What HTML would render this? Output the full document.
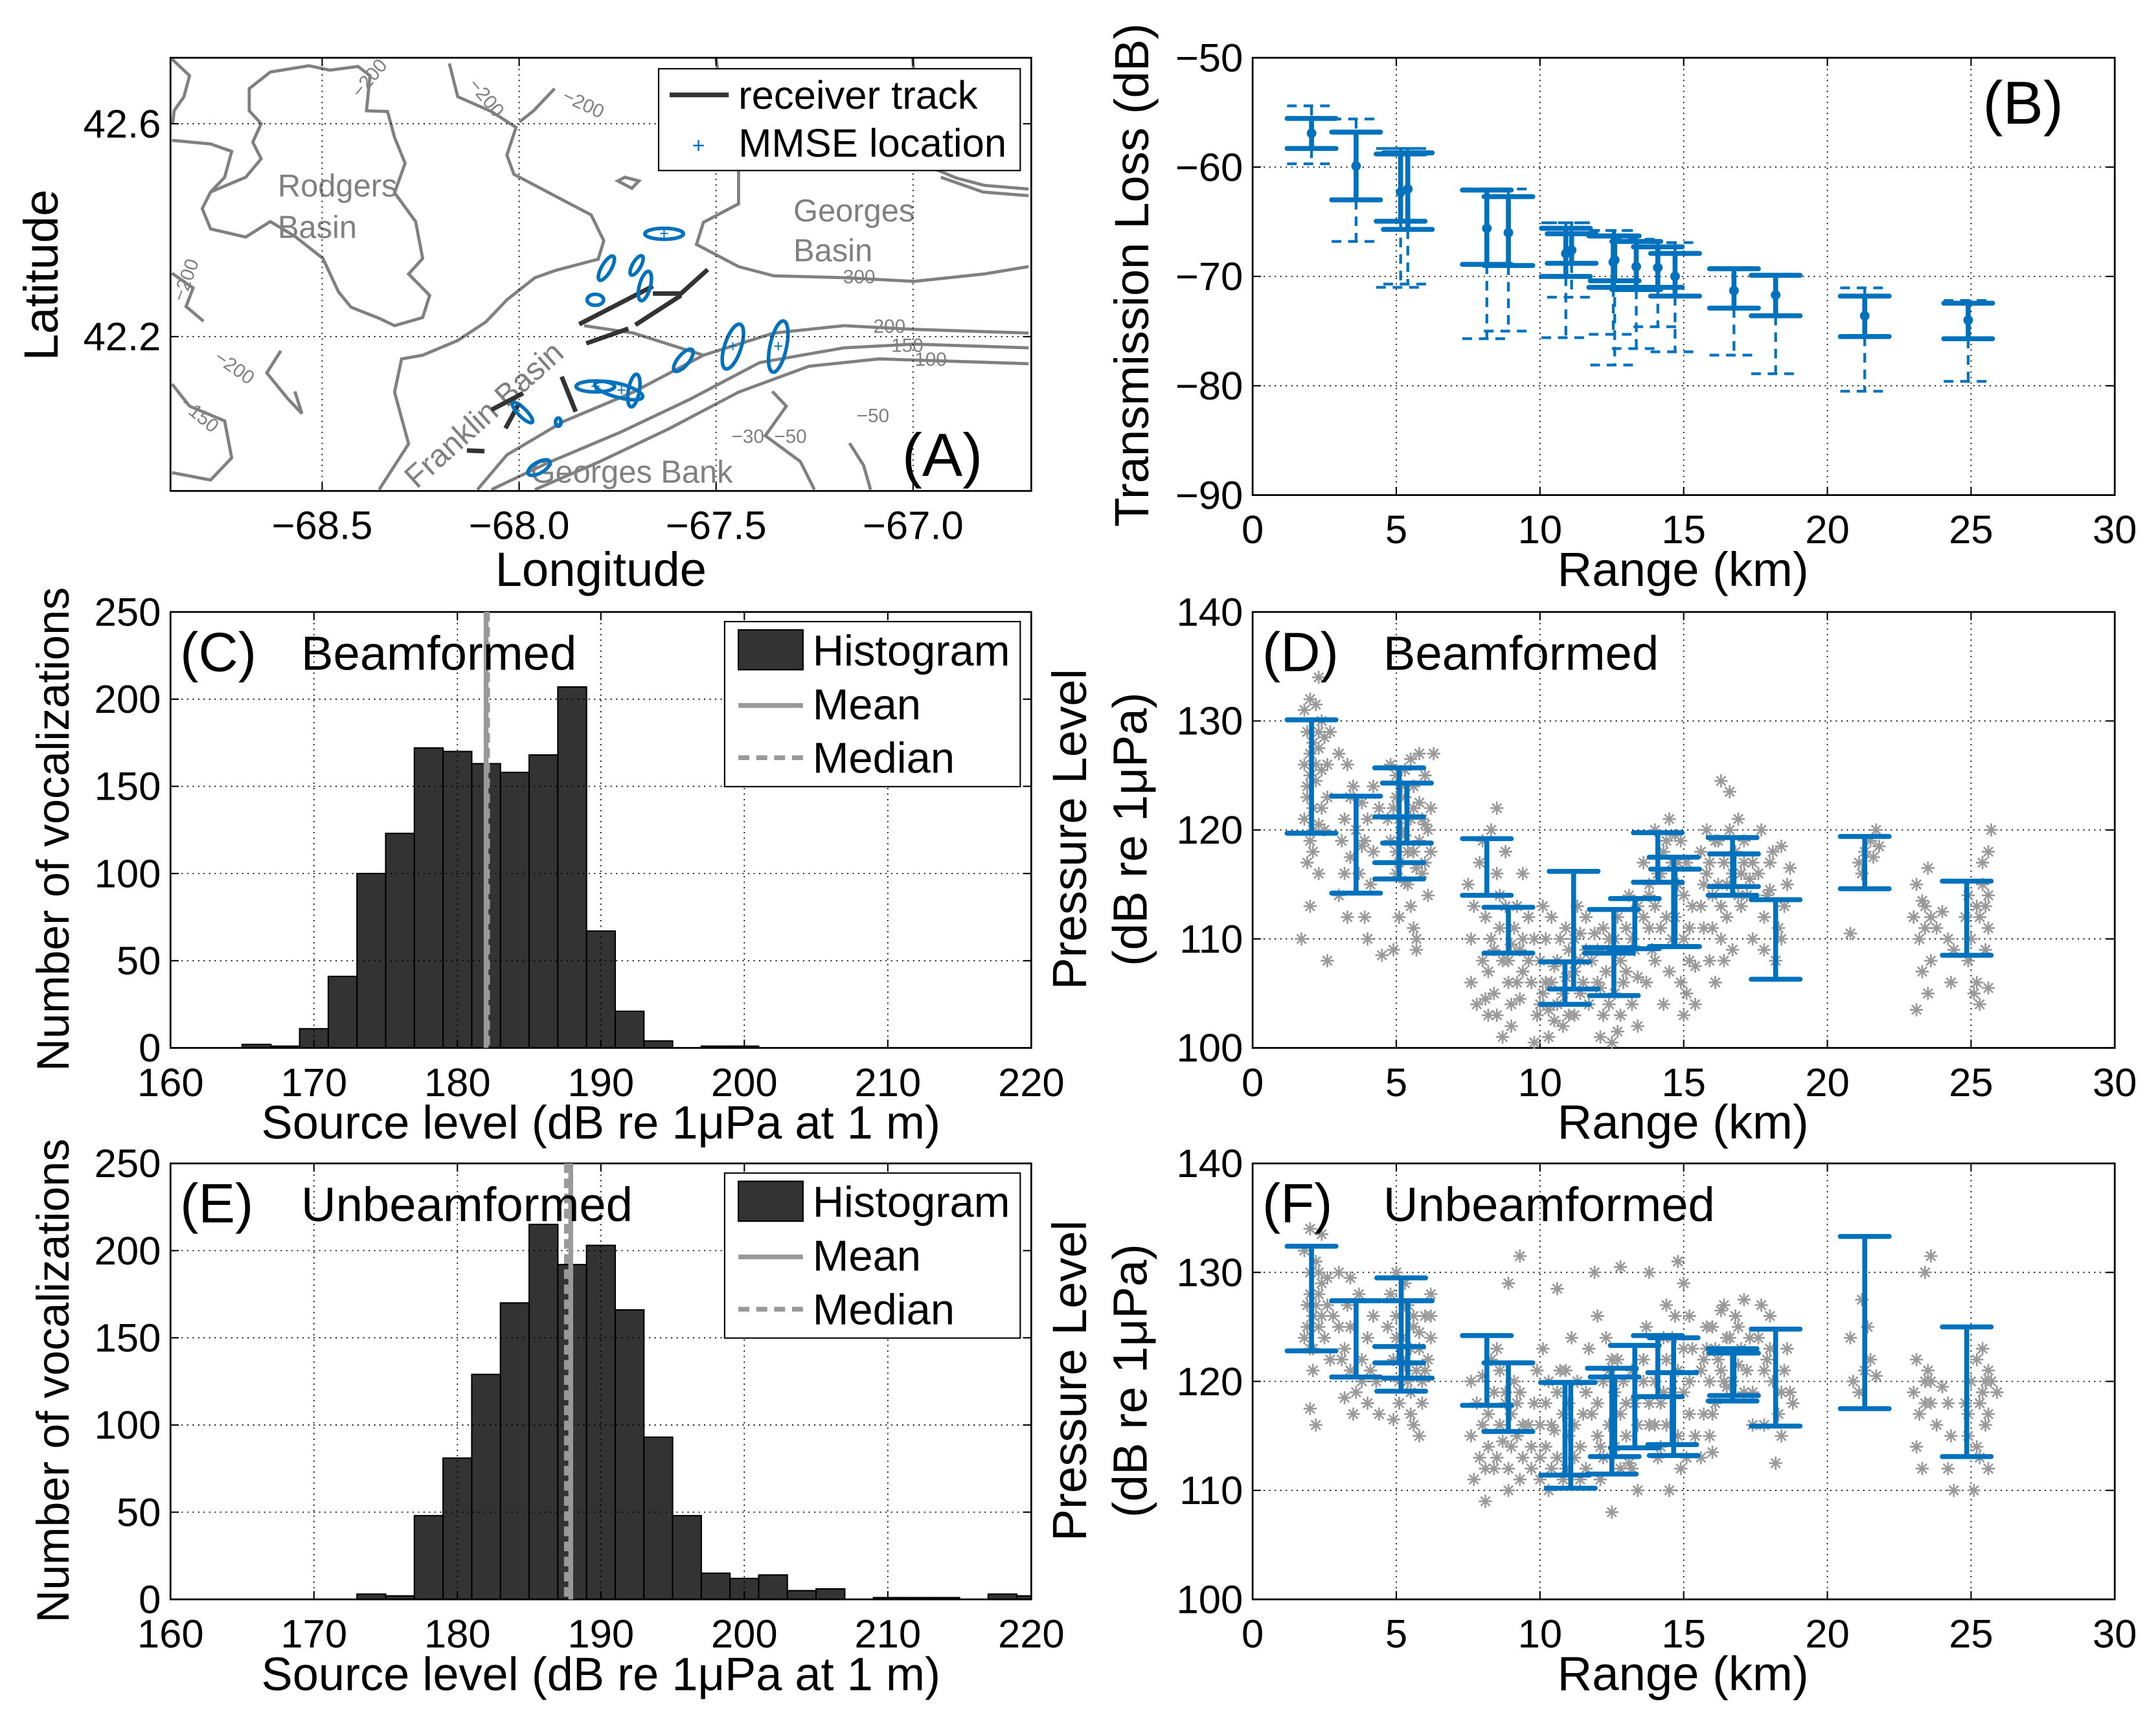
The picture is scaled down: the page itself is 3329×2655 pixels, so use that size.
<!DOCTYPE html>
<html><head><meta charset="utf-8"><style>
html,body{margin:0;padding:0;background:#fff;}
svg{display:block;font-family:"Liberation Sans",Arial,sans-serif;}
</style></head><body>
<svg id="fig" xmlns="http://www.w3.org/2000/svg" width="3329" height="2655" viewBox="0 0 1568 1250" preserveAspectRatio="none">
<rect width="1568" height="1250" fill="#fff"/>
<g>
<rect x="124" y="42" width="626" height="315" fill="#fff"/>
<g transform="scale(0.5106,0.2685)" fill="none" stroke="#808080" stroke-width="4.8">
<path vector-effect="non-scaling-stroke" d="M385,195 L355,240 L355,300 L372,335 L360,385 L372,430 L350,480 L300,520 L288,565 L300,620 L350,642 L385,600 L420,640 L460,700 L482,790 L500,832 L540,862 L562,882 L602,860 L612,800 L582,742 L602,700 L592,600 L562,522 L577,442 L562,372 L552,302 L522,300 L527,205 L510,180 L470,190 L440,178 Z"/>
<path vector-effect="non-scaling-stroke" d="M245,160 L270,205 L262,262 L248,300 L246,335 M245,380 L300,390 L330,410 L320,480 L300,520"/>
<path vector-effect="non-scaling-stroke" d="M640,172 L652,262 L700,302 L735,345 L722,420 L732,472 L782,522 L842,582 L860,652 L852,702 L792,732 L762,752 L722,812 L692,872 L652,922 L602,962 L572,972 L562,1062 L582,1202 L540,1326"/>
<path vector-effect="non-scaling-stroke" d="M790,240 L760,300 L740,330"/>
<path vector-effect="non-scaling-stroke" d="M1020,158 L1032,332 L1052,452 L1052,552 L1002,602 L992,662 L1052,722 L1102,747 L1202,752 L1302,762 L1402,742 L1465,722"/>
<path vector-effect="non-scaling-stroke" d="M1300,158 L1312,442 L1362,482 L1402,502 L1465,512"/>
<path vector-effect="non-scaling-stroke" d="M680,1326 L722,1232 L802,1142 L902,1062 L1002,962 L1102,902 L1202,882 L1302,892 L1465,902"/>
<path vector-effect="non-scaling-stroke" d="M700,1326 L782,1252 L882,1172 L982,1082 L1082,982 L1202,942 L1302,932 L1465,942"/>
<path vector-effect="non-scaling-stroke" d="M762,1326 L852,1252 L952,1162 L1052,1062 L1152,992 L1252,972 L1465,985"/>
<path vector-effect="non-scaling-stroke" d="M832,882 L902,902 L1002,962"/>
<path vector-effect="non-scaling-stroke" d="M245,1040 L270,1100 L320,1140 L330,1240 L300,1300 L245,1280"/>
<path vector-effect="non-scaling-stroke" d="M400,950 L380,1010 L410,1080 L430,1120 L420,1060"/>
<path vector-effect="non-scaling-stroke" d="M1100,1060 L1120,1100 L1090,1180 L1140,1250 L1160,1326"/>
<path vector-effect="non-scaling-stroke" d="M1210,1200 L1230,1260 L1240,1326"/>
<path vector-effect="non-scaling-stroke" d="M880,490 L900,510 L910,490 L890,480 Z"/>
<path vector-effect="non-scaling-stroke" d="M245,740 L275,780 L265,830 L290,870"/>
<path vector-effect="non-scaling-stroke" d="M1340,480 L1400,520 L1465,530"/>
</g>
<g font-size="14" fill="#808080">
<text x="262" y="72" transform="rotate(-50 262 72)">−200</text>
<text x="340" y="62" transform="rotate(50 340 62)">−200</text>
<text x="408" y="73" transform="rotate(25 408 73)">−200</text>
<text x="605" y="206">−300</text>
<text x="627" y="242">−200</text>
<text x="640" y="256">−150</text>
<text x="657" y="266">−100</text>
<text x="134" y="220" transform="rotate(-70 134 220)">−200</text>
<text x="155" y="262" transform="rotate(35 155 262)">−200</text>
<text x="130" y="295" transform="rotate(40 130 295)">−150</text>
<text x="623" y="307">−50</text>
<text x="532" y="322">−30</text>
<text x="563" y="322">−50</text>
</g>
<g font-size="23" fill="#808080">
<text x="202" y="143">Rodgers</text>
<text x="202" y="173">Basin</text>
<text x="577" y="161">Georges</text>
<text x="577" y="190">Basin</text>
<text x="386" y="351">Georges Bank</text>
<text x="303" y="356" transform="rotate(-42 303 356)">Franklin Basin</text>
</g>
<g transform="scale(0.5106,0.2685)" stroke="#333" stroke-width="7" fill="none">
<path vector-effect="non-scaling-stroke" d="M825,878 L930,775 M930,795 L970,795 L1008,730 M905,880 L970,800 M835,930 L895,890 M700,1110 L745,1065 M800,1020 L820,1115 M720,1160 L740,1090 M665,1220 L690,1222"/>
</g>
<g stroke="#0072BD" stroke-width="2.6" fill="none">
<ellipse cx="483" cy="170" rx="14" ry="4"/>
<ellipse cx="441" cy="195" rx="10" ry="3.5" transform="rotate(-60 441 195)"/>
<ellipse cx="463" cy="193" rx="8" ry="3" transform="rotate(-60 463 193)"/>
<ellipse cx="433" cy="218" rx="6" ry="4"/>
<ellipse cx="469" cy="208" rx="11" ry="4" transform="rotate(-75 469 208)"/>
<ellipse cx="533" cy="252" rx="17" ry="6" transform="rotate(-72 533 252)"/>
<ellipse cx="566" cy="252" rx="19" ry="6" transform="rotate(-78 566 252)"/>
<ellipse cx="497" cy="262" rx="10" ry="4" transform="rotate(-50 497 262)"/>
<ellipse cx="433" cy="281" rx="14" ry="4"/>
<ellipse cx="450" cy="284" rx="18" ry="5" transform="rotate(15 450 284)"/>
<ellipse cx="461" cy="284" rx="12" ry="4" transform="rotate(-80 461 284)"/>
<ellipse cx="380" cy="300" rx="10" ry="3" transform="rotate(45 380 300)"/>
<ellipse cx="392" cy="340" rx="9" ry="4" transform="rotate(-30 392 340)"/>
<ellipse cx="406" cy="307" rx="2" ry="3"/>
</g>
<g fill="#0072BD" font-size="12" text-anchor="middle">
<text x="483" y="174">+</text><text x="433" y="285">+</text><text x="533" y="256">+</text><text x="566" y="256">+</text><text x="452" y="288">+</text>
</g>
</g>
</svg>
<script>
const NS='http://www.w3.org/2000/svg';
const svg=document.getElementById('fig');
function mk(tag,attrs,parent){const e=document.createElementNS(NS,tag);for(const k in attrs)e.setAttribute(k,attrs[k]);(parent||svg).appendChild(e);return e;}
function txt(s,attrs,parent){const e=mk('text',attrs,parent);e.textContent=s;return e;}

/* ---------- DATA ---------- */
const aLonTicks=[-68.5,-68.0,-67.5,-67.0];
const aLonLabels=['−68.5','−68.0','−67.5','−67.0'];
const aLatTicks=[42.6,42.2];
const aLatLabels=['42.6','42.2'];

const bRange=[2.05,3.6,5.15,5.4,8.15,8.9,10.9,11.1,12.6,12.55,13.35,14.1,14.7,16.75,18.2,21.3,24.9];
const bMean=[-56.9,-59.9,-62.3,-62,-65.6,-66,-67.9,-67.6,-68.5,-68.7,-69.1,-69.2,-70.0,-71.3,-71.7,-73.6,-74.0];
const bTop=[-55.55,-56.8,-58.8,-58.7,-62.1,-62.7,-65.6,-66.1,-66.3,-66.3,-66.8,-67.3,-67.9,-69.3,-69.9,-71.8,-72.45];
const bBot=[-58.3,-63.0,-64.95,-65.7,-68.9,-69.0,-70.0,-68.8,-70.4,-71.0,-71.2,-71.0,-71.8,-72.9,-73.6,-75.5,-75.7];
const bDashTop=[-54.4,-55.6,-58.3,-58.3,-62.0,-62.0,-65.1,-65.1,-65.8,-65.8,-66.6,-66.9,-66.9,-69.2,-69.8,-71.05,-72.2];
const bDashBot=[-59.7,-66.8,-71.0,-70.7,-75.7,-75.0,-75.6,-71.9,-78.1,-75.3,-76.6,-74.6,-76.9,-77.2,-78.9,-80.5,-79.6];
const bXTicks=[0,5,10,15,20,25,30];
const bYTicks=[-50,-60,-70,-80,-90];
const bYLabels=['−50','−60','−70','−80','−90'];

const cBins=[165,167,169,171,173,175,177,179,181,183,185,187,189,191,193,195,197,199];
const cCounts=[2,1,11,41,100,123,172,170,163,158,168,207,67,21,4,0,1,1];
const cMean=182.0, cMedian=182.1;
const eBins=[173,175,177,179,181,183,185,187,189,191,193,195,197,199,201,203,205,207,209,211,213,215,217,219];
const eCounts=[3,2,48,81,129,170,215,192,203,166,93,48,15,12,14,5,6,0,1,1,1,0,3,2];
const eMean=187.9, eMedian=187.6;
const histXTicks=[160,170,180,190,200,210,220];
const histYTicks=[0,50,100,150,200,250];

const dBarRange=[2.05,3.6,5.1,5.37,5.1,8.15,8.9,11.17,10.87,12.57,12.4,13.3,14.1,14.65,14.7,16.7,16.75,18.2,21.3,24.85];
const dBarTop=[130.1,123.1,125.7,124.3,121.2,119.2,112.9,116.2,107.9,112.7,109.2,113.7,119.75,117.5,116.4,119.3,117.8,113.6,119.4,115.3];
const dBarBot=[119.7,114.2,115.5,118.8,117.0,114.0,108.7,105.4,104.0,104.8,108.7,109.1,115.2,109.3,109.3,114.0,114.8,106.3,114.6,108.5];
const fBarRange=[2.05,3.6,5.17,5.4,5.1,8.15,8.9,11.07,10.87,12.5,12.6,13.3,14.1,14.65,14.6,16.7,16.75,18.2,21.3,24.85];
const fBarTop=[132.4,127.4,129.5,127.4,123.2,124.2,121.7,119.9,119.9,121.2,120.4,123.3,124.2,124.0,120.8,123.0,122.6,124.8,133.3,125.0];
const fBarBot=[122.8,120.4,119.1,120.3,121.7,117.8,115.4,110.2,111.4,111.5,113.1,113.9,118.6,113.2,114.2,118.2,118.7,115.9,117.5,113.1];
const levelTicks=[100,110,120,130,140];

const dPtRange=[1.8,2.0,2.2,2.4,1.9,2.1,2.3,2.5,1.8,2.0,2.2,2.4,1.9,2.1,2.6,1.8,2.3,2.0,1.9,2.3,2.0,2.5,2.6,2.7,2.3,2.1,1.7,2.6,
3.0,3.3,3.5,3.8,4.0,3.2,3.6,3.9,4.2,3.4,3.7,4.1,3.0,3.3,3.2,4.2,4.4,4.0,4.5,3.9,
4.8,5.0,5.2,5.5,5.8,6.0,6.3,4.9,5.1,5.3,5.6,5.9,6.2,4.8,5.0,5.3,5.6,5.8,6.1,5.0,5.4,5.7,6.0,5.5,5.6,5.7,5.1,4.9,5.7,6.1,5.3,
7.5,7.7,7.9,8.1,8.3,8.5,8.7,8.9,9.1,9.3,7.6,7.8,8.0,8.2,8.4,8.6,8.8,9.0,9.2,9.4,8.0,8.3,8.5,9.4,7.6,8.7,9.0,
9.8,10.0,10.2,10.4,10.6,10.8,11.0,11.2,11.4,9.9,10.3,10.5,10.9,11.3,9.6,10.1,10.7,10.5,11.2,11.4,9.8,10.1,
11.6,11.8,12.0,12.2,12.4,12.6,12.8,13.0,13.2,13.4,11.7,12.1,12.5,12.9,13.3,11.9,12.7,13.1,12.3,13.4,
13.6,13.8,14.0,14.2,14.4,14.6,14.8,15.0,15.2,15.4,13.7,13.9,14.1,14.3,14.5,14.7,14.9,15.1,15.3,14.0,14.5,14.9,15.4,13.8,15.0,
15.6,15.8,16.0,16.2,16.4,16.6,16.8,17.0,17.2,17.4,15.7,15.9,16.1,16.3,16.5,16.9,17.1,17.3,16.7,15.6,17.0,16.2,17.4,16.6,16.3,
17.6,17.9,18.1,18.3,18.5,18.7,17.8,18.2,18.4,18.6,17.7,18.0,
21.1,21.3,21.5,21.7,21.2,21.6,20.8,21.8,
23.0,23.2,23.4,23.6,23.8,24.0,23.3,23.5,23.1,23.5,23.3,24.2,24.3,23.1,24.4,
24.8,25.0,25.2,25.4,25.6,24.9,25.2,25.5,25.6,25.3,25.1,25.6,25.7,25.4,25.6];
const dPtLevel=[131,132,131.5,130,129,128,127.5,128.5,126,125,124.5,125.5,123,122,123,121,120.5,119,117,116,113,120,126,129,134,118,110,108,
127,126,124,122.5,121,121,120,119,118,117.5,116,115,114,112,116,124,122,110,108.5,112,
126,125,124,126.5,127,125,127,122,121,123,122,121,122,119,118,119.5,118,119,120,116,115,116.5,117,113,111,109,112,109,110,114,115.2,
115,113,117,112,110,116,108,106,111,109,106,104,108,103,105,114,118,104,113,107,119,120,122,116,110,101,102,
110,108,106,112,104,102,109,107,105,103,101,107.5,111,113,112,113,110,102.5,103,110.5,100.5,105,
112,108,106,103,110,105,108,111,104,102,104,101,100.5,106,109,110.5,112,114,107,106.5,
117,115,113,111,119,117,115,110,108,104,106,109,116,104,107,112,119,117,113,120,121,106,107.5,111,103,
118,116,114,119,117,120,118,116,114,117,111,108,106,110,112,121,119,115.5,109,113,113,115,110,123.5,124.5,
116,114,118,111,113,116.5,109,108,118.5,115,120,117,
117,118,119,120,116,117.5,110.5,118.5,
112,110,113,108,111,112.5,107,105,115,116.5,113.5,110,106,103.5,109,
112,110,113,115,114,108,106,109,111,104,105,105.5,120,117,118];
const dPtRangeExtra=[5.0,5.2,5.4,5.6,5.8,6.0,5.1,5.5,5.9,6.2,4.7,5.3,2.0,2.2,1.9,2.4,2.1,2.3,3.4,3.8,3.1,
8.2,8.4,8.6,8.8,9.0,9.2,9.4,8.1,8.5,8.9,9.3,9.6,9.7,10.0,10.2,10.4,10.6,10.8,11.0,11.2,11.4,10.3,10.9,11.5,11.6,
12.0,12.2,12.4,12.6,12.8,13.0,13.2,13.4,12.1,12.7,13.6,13.8,14.0,14.2,14.4,14.6,14.8,15.0,15.2,14.3,14.7,15.1,
15.7,15.9,16.1,16.3,16.5,16.7,16.9,17.1,16.0,16.4,15.8,17.8,18.4,18.0,23.4,23.6,25.3,25.5,24.9];
const dPtLevelExtra=[123,120,118,124,122.5,120.5,117,121,116,118,121,125.5,127,126,124,122,120,129,123,118.5,119,
107,109,111,113,109.5,106,110,104.5,103,108,104.5,108,106,104,110,106,108,105,103,110,108,103.5,106.5,106,109,
109,111,104,110,103,107,110,113,105.5,101.5,112,114,108,116,112,110,117,114,111,118,119.5,105,
115,117,119,113,115,116,114,117,111,108,120,112,110,114.5,111,112,112,113,114];

const fPtRange=[1.8,2.0,2.2,2.4,1.9,2.1,2.3,2.6,1.8,2.0,2.3,2.5,2.7,2.1,2.6,2.4,2.0,2.2,2.0,3.0,2.8,
3.0,3.2,3.4,3.6,3.8,4.0,4.2,3.3,3.7,4.1,3.5,4.0,3.2,4.3,3.4,4.4,
4.8,5.0,5.2,5.4,5.6,5.8,6.0,6.2,4.9,5.1,5.3,5.5,5.7,5.9,6.1,5.6,5.8,5.0,5.3,4.9,6.2,5.5,
7.6,7.8,8.0,8.2,8.4,8.6,8.8,9.0,9.2,9.4,7.7,7.9,8.1,8.3,8.5,8.7,8.9,9.1,9.3,7.6,8.0,8.9,9.3,
9.8,10.0,10.2,10.4,10.6,10.8,11.0,11.2,11.4,9.9,10.1,10.3,10.5,10.7,10.9,11.3,9.7,10.0,11.1,10.6,
11.6,11.8,12.0,12.2,12.4,12.6,12.8,13.0,13.2,13.4,11.7,12.1,12.5,12.9,13.3,12.3,12.0,11.9,12.5,12.8,13.1,
13.6,13.8,14.0,14.2,14.4,14.6,14.8,15.0,15.2,15.4,13.7,14.1,14.5,14.9,15.3,14.3,13.8,14.8,15.0,15.2,14.4,
15.6,15.8,16.0,16.2,16.4,16.6,16.8,17.0,17.2,17.4,15.7,15.9,16.1,16.3,16.5,16.9,17.3,15.6,16.0,17.1,17.4,
17.6,17.9,18.1,18.3,18.5,18.7,17.8,18.0,18.4,18.6,18.2,17.7,18.8,
20.9,21.1,21.3,21.5,21.7,21.4,21.2,20.8,
23.0,23.2,23.4,23.6,23.8,24.0,23.1,23.3,23.1,23.5,24.2,24.3,23.4,23.6,24.4,24.2,
24.8,25.0,25.2,25.4,25.6,24.9,25.2,25.5,25.6,25.3,25.4,25.1,25.6,25.7,25.9];
const fPtLevel=[132,130,131,129,127,126,128,127,124,123,125,124,122,121,129.5,133.5,134,116,117.5,130,126,
125,123,121,119,122,124,126,127,128,121,117,118,118.5,120,129.5,117,
128,126,124,127,125,123,126,128,122,120,121.5,119,121,118,122,116,115,130,129,116.5,124,117,
120,118,116,114,112,121,119,117,115,113,111,113,109,122,123,114.5,112,120,111,115,120.5,129,131.5,
118,116,114,112,119,117,115,113,111,121,123,110,115.5,121,112,120,114,111,124,128.5,
119,117,115,113,121,119,117,115,112,110,123,111,122,120,118,124,126,130,108,130.5,112.5,
120,118,116,114,122,124,121,119,117,115,125,113,110,112,123,119,130,131,129,126,127,
121,123,125,122,120,124,126,123,121,119,117,115,118,126.5,119.5,121.5,124,113,113.5,127.5,116,
124,122,120,117,121,119,116,126,115,123,112.5,127,118,
120,119,121,122,120.5,125,127.5,124,
119,117,120,118,116,119.5,114,112,122,121,118,115,130,131.5,110,112,
118,120,122,119,117,115,114,116,121,113,123,110,112,120,119];
const fPtRangeExtra=[5.0,5.2,5.4,5.6,5.8,6.0,5.1,5.5,5.9,6.2,4.7,5.3,2.0,2.2,1.9,2.4,2.1,2.3,3.4,3.8,3.1,
8.2,8.4,8.6,8.8,9.0,9.2,9.4,8.1,8.5,8.9,9.3,9.6,9.7,10.0,10.2,10.4,10.6,10.8,11.0,11.2,11.4,10.3,10.9,11.5,11.6,
12.0,12.2,12.4,12.6,12.8,13.0,13.2,13.4,12.1,12.7,13.6,13.8,14.0,14.2,14.4,14.6,14.8,15.0,15.2,14.3,14.7,15.1,
15.7,15.9,16.1,16.3,16.5,16.7,16.9,17.1,16.0,16.4,15.8,17.8,18.4,18.0,23.4,23.6,25.3,25.5,24.9];
const fPtLevelExtra=[124,122,120,126,124.5,121,118,123,120,126,125,127,128,127,125,126,123,130,125,120,122,
117,119,116,118,114,118,116,112,113,110,119,116,112,113,118,116,113,111,118,116,114,120,121,117,112,
118,120,116,114,112,118,121,116,114,122,122,116,120,118,116,119,115,123,120,124,126,113,
122,120,123,121,124,120,125,119,117,127,125,121,119,123,118,120,118,120,117];

/* ---------- AXES HELPERS ---------- */
function axes(box,xd,yd){
  return {
    x:v=>box.x+(v-xd[0])/(xd[1]-xd[0])*box.w,
    y:v=>box.y+box.h-(v-yd[0])/(yd[1]-yd[0])*box.h
  };
}
function drawFrame(g,box,sx,sy,xt,yt,xl,yl,grid){
  for(const t of xt){const X=sx(t);
    if(grid&&X>box.x+1&&X<box.x+box.w-1)mk('line',{x1:X,x2:X,y1:box.y,y2:box.y+box.h,stroke:'#000','stroke-width':0.8,'stroke-dasharray':'1 3'},g);
    mk('line',{x1:X,x2:X,y1:box.y+box.h,y2:box.y+box.h-6,stroke:'#000','stroke-width':1},g);
    mk('line',{x1:X,x2:X,y1:box.y,y2:box.y+6,stroke:'#000','stroke-width':1},g);}
  for(const t of yt){const Y=sy(t);
    if(grid&&Y>box.y+1&&Y<box.y+box.h-1)mk('line',{x1:box.x,x2:box.x+box.w,y1:Y,y2:Y,stroke:'#000','stroke-width':0.8,'stroke-dasharray':'1 3'},g);
    mk('line',{x1:box.x,x2:box.x+6,y1:Y,y2:Y,stroke:'#000','stroke-width':1},g);
    mk('line',{x1:box.x+box.w,x2:box.x+box.w-6,y1:Y,y2:Y,stroke:'#000','stroke-width':1},g);}
  mk('rect',{x:box.x,y:box.y,width:box.w,height:box.h,fill:'none',stroke:'#000','stroke-width':1.3},g);
  xt.forEach((t,i)=>{const e=txt(xl[i],{x:sx(t),y:box.y+box.h+35,'font-size':29,'text-anchor':'middle'},g);
    
    });
  yt.forEach((t,i)=>{const e=txt(yl[i],{x:box.x-7,y:sy(t)+10,'font-size':29,'text-anchor':'end'},g);
    
    });
}
function ast(g,X,Y){const r=4.8;
  return mk('path',{d:`M${X-r},${Y}H${X+r}M${X},${Y-r}V${Y+r}M${X-r*0.7},${Y-r*0.7}L${X+r*0.7},${Y+r*0.7}M${X-r*0.7},${Y+r*0.7}L${X+r*0.7},${Y-r*0.7}`,stroke:'#9a9a9a','stroke-width':1.3,fill:'none'},g);
}
function ebar(g,X,Yt,Yb,hw,dash,w){
  const a={stroke:'#0072BD','stroke-width':w,'stroke-linecap':'round',fill:'none'};
  if(dash)a['stroke-dasharray']=dash;
  return mk('path',Object.assign({d:`M${X},${Yt}V${Yb}M${X-hw},${Yt}H${X+hw}M${X-hw},${Yb}H${X+hw}`},a),g);
}

/* ---------- PANEL A axes ---------- */
(function(){
  const box={x:124,y:42,w:626,h:315};
  const A=axes(box,[-68.885,-66.70],[41.910,42.724]);
  const g=mk('g',{});
  
  
  drawFrame(g,box,A.x,A.y,aLonTicks,aLatTicks,aLonLabels,aLatLabels,true);
  const xl=txt('Longitude',{x:437,y:426,'font-size':35,'text-anchor':'middle'},g);
  
  
  const yl=txt('Latitude',{x:42,y:200,'font-size':35,'text-anchor':'middle',transform:'rotate(-90 42 200)'},g);
  
  
  const pl=txt('(A)',{x:656,y:346,'font-size':44},g);
  
  
  const lg=mk('g',{},g);
  
  
  mk('rect',{x:479,y:50,width:263,height:74,fill:'#fff',stroke:'#000','stroke-width':1},lg);
  mk('line',{x1:487,x2:530,y1:69,y2:69,stroke:'#333','stroke-width':3.5},lg);
  txt('receiver track',{x:537,y:79,'font-size':29},lg);
  txt('+',{x:508,y:111,'font-size':16,fill:'#0072BD','text-anchor':'middle'},lg);
  txt('MMSE location',{x:537,y:114,'font-size':29},lg);
})();

/* ---------- PANEL B ---------- */
(function(){
  const box={x:911,y:42,w:627,h:318};
  const A=axes(box,[0,30],[-90,-50]);
  const g=mk('g',{});
  
  
  drawFrame(g,box,A.x,A.y,bXTicks,bYTicks,bXTicks.map(String),bYLabels,true);
  const hw=0.85*box.w/30;
  bRange.forEach((r,i)=>{
    const X=A.x(r);
    const d=mk('path',{d:`M${X},${A.y(bDashTop[i])}V${A.y(bTop[i])}M${X},${A.y(bBot[i])}V${A.y(bDashBot[i])}M${X-hw},${A.y(bDashTop[i])}H${X+hw}M${X-hw},${A.y(bDashBot[i])}H${X+hw}`,stroke:'#0072BD','stroke-width':2,'stroke-dasharray':'7 5',fill:'none'},g);
    
    
    const s=ebar(g,X,A.y(bTop[i]),A.y(bBot[i]),hw,null,3.6);
    
    
    const c=mk('circle',{cx:X,cy:A.y(bMean[i]),r:3.5,fill:'#0072BD'},g);
    
    
  });
  const xl=txt('Range (km)',{x:1224,y:426,'font-size':35,'text-anchor':'middle'},g);
  
  
  const yl=txt('Transmission Loss (dB)',{x:835,y:200,'font-size':35,'text-anchor':'middle',transform:'rotate(-90 835 200)'},g);
  
  
  const pl=txt('(B)',{x:1442,y:90,'font-size':44},g);
  
  
})();

/* ---------- HISTOGRAMS ---------- */
function hist(top,bins,counts,mean,median,letter,title,nm){
  const box={x:124,y:top,w:626,h:317};
  const A=axes(box,[160,220],[0,250]);
  const g=mk('g',{});
  
  
  const clip=mk('clipPath',{id:'clip'+letter},g);
  mk('rect',{x:box.x,y:box.y,width:box.w,height:box.h},clip);
  const bg=mk('g',{'clip-path':`url(#clip${letter})`},g);
  drawFrame(g,box,A.x,A.y,histXTicks,histYTicks,histXTicks.map(String),histYTicks.map(String),true);
  bins.forEach((b,i)=>{
    if(counts[i]<=0)return;
    const r=mk('rect',{x:A.x(b),y:A.y(counts[i]),width:A.x(b+2)-A.x(b),height:A.y(0)-A.y(counts[i]),fill:'#333',stroke:'#000','stroke-width':1},bg);
    
    
  });
  const ml=mk('line',{x1:A.x(mean),x2:A.x(mean),y1:box.y,y2:box.y+box.h,stroke:'#999','stroke-width':3.5},g);
  
  
  const md=mk('line',{x1:A.x(median),x2:A.x(median),y1:box.y,y2:box.y+box.h,stroke:'#999','stroke-width':3.5,'stroke-dasharray':'7 4'},g);
  
  
  const pl=txt(`(${letter})`,{x:131,y:top+43,'font-size':40},g);
  
  
  const tt=txt(title,{x:219,y:top+42,'font-size':35},g);
  
  
  const lg=mk('g',{},g);
  
  
  mk('rect',{x:527,y:top+7,width:215,height:120,fill:'#fff',stroke:'#000','stroke-width':1},lg);
  mk('rect',{x:537,y:top+13,width:47,height:29,fill:'#333',stroke:'#000','stroke-width':1},lg);
  txt('Histogram',{x:591,y:top+39,'font-size':31.5},lg);
  mk('line',{x1:537,x2:584,y1:top+68,y2:top+68,stroke:'#999','stroke-width':3.5},lg);
  txt('Mean',{x:591,y:top+78,'font-size':31.5},lg);
  mk('line',{x1:537,x2:584,y1:top+106,y2:top+106,stroke:'#999','stroke-width':3.5,'stroke-dasharray':'8 5'},lg);
  txt('Median',{x:591,y:top+117,'font-size':31.5},lg);
  const xl=txt('Source level (dB re 1\u03BCPa at 1 m)',{x:437,y:top+383,'font-size':34,'text-anchor':'middle'},g);
  
  
  const cy=top+158;
  const yl=txt('Number of vocalizations',{x:50,y:cy,'font-size':33,'text-anchor':'middle',transform:`rotate(-90 50 ${cy})`},g);
  
  
}
hist(445,cBins,cCounts,cMean,cMedian,'C','Beamformed','panel-c-histogram');
hist(846,eBins,eCounts,eMean,eMedian,'E','Unbeamformed','panel-e-histogram');

/* ---------- PRESSURE LEVEL PANELS ---------- */
function level(top,pr,pl,br,bt,bb,letter,title,nm){
  const box={x:911,y:top,w:627,h:317};
  const A=axes(box,[0,30],[100,140]);
  const g=mk('g',{});
  
  
  drawFrame(g,box,A.x,A.y,bXTicks,levelTicks,bXTicks.map(String),levelTicks.map(String),true);
  const sg=mk('g',{},g);
  
  
  pr.forEach((r,i)=>{
    const p=ast(sg,A.x(r),A.y(pl[i]));
    
    
  });
  const hw=0.85*box.w/30;
  br.forEach((r,i)=>{
    const e=ebar(g,A.x(r),A.y(bt[i]),A.y(bb[i]),hw,null,3.6);
    
    
  });
  const p2=txt(`(${letter})`,{x:918,y:top+43,'font-size':40},g);
  
  
  const tt=txt(title,{x:1006,y:top+42,'font-size':35},g);
  
  
  const xl=txt('Range (km)',{x:1224,y:top+383,'font-size':35,'text-anchor':'middle'},g);
  
  
  const cy=top+158;
  const y1=txt('Pressure Level',{x:790,y:cy,'font-size':35,'text-anchor':'middle',transform:`rotate(-90 790 ${cy})`},g);
  
  
  const y2=txt('(dB re 1\u03BCPa)',{x:834,y:cy,'font-size':35,'text-anchor':'middle',transform:`rotate(-90 834 ${cy})`},g);
  
  
}
level(445,dPtRange.concat(dPtRangeExtra),dPtLevel.concat(dPtLevelExtra),dBarRange,dBarTop,dBarBot,'D','Beamformed','panel-d-pressure-level');
level(846,fPtRange.concat(fPtRangeExtra),fPtLevel.concat(fPtLevelExtra),fBarRange,fBarTop,fBarBot,'F','Unbeamformed','panel-f-pressure-level');
</script>
</body></html>
